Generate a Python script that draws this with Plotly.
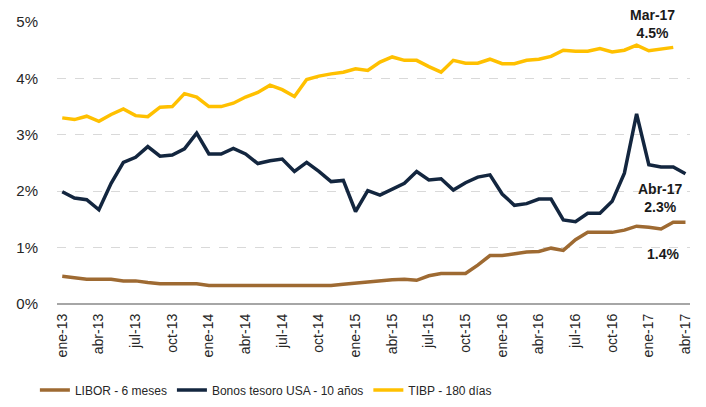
import plotly.graph_objects as go

months = ["ene-13","feb-13","mar-13","abr-13","may-13","jun-13","jul-13","ago-13","sep-13","oct-13","nov-13","dic-13",
          "ene-14","feb-14","mar-14","abr-14","may-14","jun-14","jul-14","ago-14","sep-14","oct-14","nov-14","dic-14",
          "ene-15","feb-15","mar-15","abr-15","may-15","jun-15","jul-15","ago-15","sep-15","oct-15","nov-15","dic-15",
          "ene-16","feb-16","mar-16","abr-16","may-16","jun-16","jul-16","ago-16","sep-16","oct-16","nov-16","dic-16",
          "ene-17","feb-17","mar-17","abr-17"]

libor = [0.49,0.47,0.44,0.44,0.44,0.41,0.41,0.38,0.36,0.36,0.36,0.36,
         0.33,0.33,0.33,0.33,0.33,0.33,0.33,0.33,0.33,0.33,0.33,0.35,
         0.37,0.40,0.41,0.43,0.44,0.42,0.50,0.54,0.54,0.54,0.69,0.86,
         0.86,0.89,0.92,0.93,0.99,0.95,1.14,1.27,1.27,1.27,1.31,1.38,
         1.36,1.33,1.45,1.45]

bonos = [1.99,1.88,1.85,1.67,2.14,2.51,2.60,2.79,2.62,2.64,2.75,3.03,
         2.66,2.66,2.76,2.66,2.49,2.54,2.57,2.35,2.51,2.35,2.17,2.19,
         1.64,2.01,1.93,2.04,2.14,2.35,2.20,2.22,2.02,2.15,2.25,2.29,
         1.95,1.75,1.78,1.86,1.86,1.49,1.46,1.61,1.61,1.82,2.32,3.37,
         2.47,2.43,2.43,2.31]

tibp = [3.30,3.27,3.33,3.24,3.36,3.46,3.34,3.32,3.49,3.50,3.73,3.67,
        3.50,3.50,3.56,3.67,3.75,3.88,3.80,3.68,3.98,4.04,4.08,4.11,
        4.17,4.14,4.29,4.38,4.32,4.32,4.21,4.11,4.32,4.27,4.27,4.34,
        4.26,4.26,4.32,4.34,4.39,4.50,4.48,4.48,4.53,4.47,4.50,4.59,
        4.49,4.52,4.55,None]

tick_labels = months[::3]
y_ticks = [0, 1, 2, 3, 4, 5]
y_tick_text = ["0%", "1%", "2%", "3%", "4%", "5%"]

FONT = "Liberation Sans, Arial, sans-serif"

fig = go.Figure()
fig.add_trace(go.Scatter(x=months, y=libor, mode="lines", name="LIBOR - 6 meses",
                         line=dict(color="#9E6A32", width=3.5)))
fig.add_trace(go.Scatter(x=months, y=bonos, mode="lines", name="Bonos tesoro USA - 10 años",
                         line=dict(color="#13263F", width=3.5)))
fig.add_trace(go.Scatter(x=months, y=tibp, mode="lines", name="TIBP - 180 días",
                         line=dict(color="#FFC000", width=3.5)))

ann_font = dict(family=FONT, size=14, color="#1a1a1a")
fig.add_annotation(x=months[50], y=tibp[50], text="<b>Mar-17<br>4.5%</b>", showarrow=False,
                   xanchor="center", yanchor="bottom", xshift=-21, yshift=4, font=ann_font)
fig.add_annotation(x=months[51], y=bonos[51], text="<b>Abr-17<br>2.3%</b>", showarrow=False,
                   xanchor="center", yanchor="top", xshift=-25, yshift=-5, font=ann_font)
fig.add_annotation(x=months[51], y=libor[51], text="<b>1.4%</b>", showarrow=False,
                   xanchor="center", yanchor="top", xshift=-22, yshift=-22, font=ann_font)

# page body has an 8px default margin, so the figure is drawn 8px in from the top-left
fig.update_layout(
    width=698, height=399,
    margin=dict(l=49, r=16, t=14, b=103, autoexpand=False),
    paper_bgcolor="white", plot_bgcolor="white",
    font=dict(family=FONT, size=14, color="#262626"),
    showlegend=True,
    legend=dict(orientation="h", x=0.33, xanchor="center", xref="paper",
                y=-0.305, yanchor="middle", yref="paper",
                font=dict(family=FONT, size=12, color="#262626"),
                itemwidth=30, traceorder="normal"),
)
fig.update_xaxes(type="category", range=[-0.43, 51.37], tickmode="array",
                 tickvals=tick_labels, ticktext=tick_labels, tickangle=-90,
                 showgrid=False, showline=False, zeroline=False, ticks="", automargin=False,
                 ticklabelstandoff=6, tickfont=dict(family=FONT, size=14, color="#262626"))
fig.update_yaxes(range=[0, 5.0], tickmode="array", tickvals=y_ticks, ticktext=y_tick_text,
                 showgrid=True, gridcolor="#d9d9d9", griddash="dash", gridwidth=1.3,
                 zeroline=True, zerolinecolor="#a6a6a6", zerolinewidth=1.5, automargin=False,
                 showline=False, ticks="", ticklabelstandoff=18,
                 tickfont=dict(family=FONT, size=15, color="#262626"))

fig.write_html("out.html")
